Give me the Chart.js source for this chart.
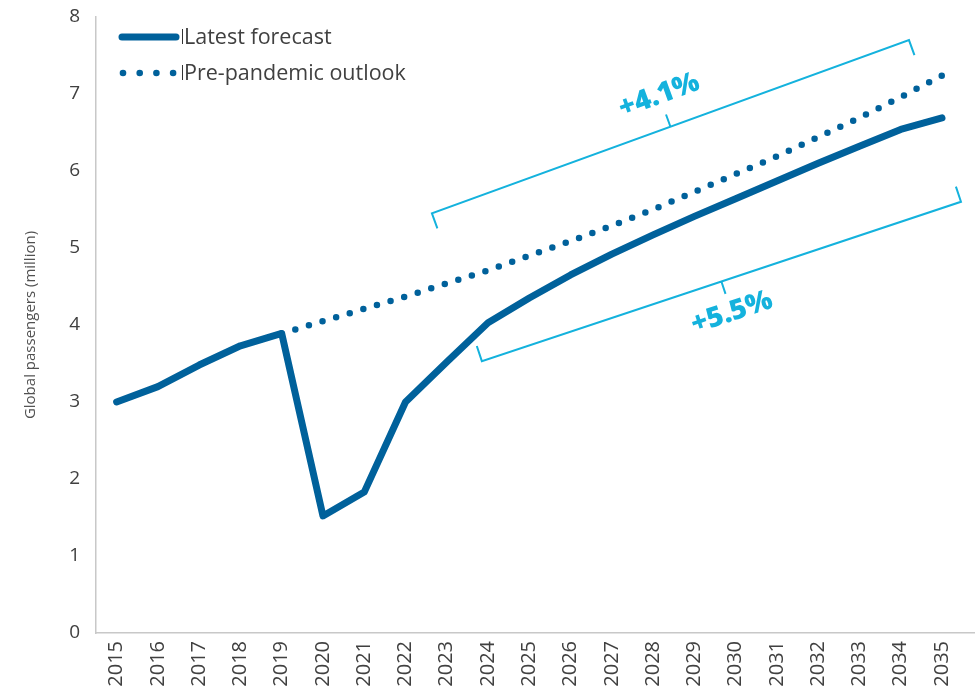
<!DOCTYPE html>
<html>
<head>
<meta charset="utf-8">
<script src="https://cdn.jsdelivr.net/npm/chart.js@4.4.0/dist/chart.umd.min.js"></script>
<style>
    body { margin: 0; background: #fff; }
    #wrap { width: 975px; height: 694px; }
</style>
</head>
<body>
<div id="wrap"><canvas id="myChart"></canvas></div>
<script>
const years = [2015, 2016, 2017, 2018, 2019, 2020, 2021, 2022, 2023, 2024, 2025,
    2026, 2027, 2028, 2029, 2030, 2031, 2032, 2033, 2034, 2035];
const latestForecast = [3.0, 3.2, 3.48, 3.73, 3.89, 1.52, 1.83, 3.0, 3.52, 4.03, 4.35,
    4.65, 4.92, 5.17, 5.41, 5.64, 5.87, 6.1, 6.32, 6.54, 6.69];
const prePandemic = [null, null, null, null, 3.89, 4.05, 4.21, 4.37, 4.54, 4.71, 4.9,
    5.09, 5.29, 5.5, 5.73, 5.96, 6.19, 6.44, 6.69, 6.96, 7.24];
const seriesNames = ["Latest forecast", "Pre-pandemic outlook"];

// growth brackets, ends given in (year, value)
const growthLabels = ["+4.1%", "+5.5%"];
const bracketFrom = [[2022.64, 5.45], [2023.85, 3.53]];
const bracketTo = [[2034.2, 7.7], [2035.46, 5.6]];
const bracketSide = [1, -1];

const navy = "#00619b";
const cyan = "#14b2dd";

const growthBrackets = {
    id: "growthBrackets",
    afterDatasetsDraw(chart) {
        const { ctx, scales: { x, y } } = chart;
        ctx.save();
        ctx.strokeStyle = cyan;
        ctx.fillStyle = cyan;
        ctx.lineWidth = 2;
        growthLabels.forEach((label, i) => {
            const x1 = x.getPixelForValue(bracketFrom[i][0]);
            const y1 = y.getPixelForValue(bracketFrom[i][1]);
            const x2 = x.getPixelForValue(bracketTo[i][0]);
            const y2 = y.getPixelForValue(bracketTo[i][1]);
            const ang = Math.atan2(y2 - y1, x2 - x1);
            const nx = -Math.sin(ang);
            const ny = Math.cos(ang);
            const d = bracketSide[i];
            const mx = (x1 + x2) / 2;
            const my = (y1 + y2) / 2;

            ctx.beginPath();
            ctx.moveTo(x1 + d * nx * 16, y1 + d * ny * 16);
            ctx.lineTo(x1, y1);
            ctx.lineTo(x2, y2);
            ctx.lineTo(x2 + d * nx * 16, y2 + d * ny * 16);
            ctx.moveTo(mx, my);
            ctx.lineTo(mx - d * nx * 13, my - d * ny * 13);
            ctx.stroke();

            ctx.save();
            ctx.translate(mx - d * nx * 33, my - d * ny * 33);
            ctx.rotate(ang);
            ctx.font = "800 28px 'Open Sans'";
            ctx.textAlign = "center";
            ctx.textBaseline = "middle";
            ctx.fillText(label, 0, 0);
            ctx.restore();
        });
        ctx.restore();
    },
};

const legendBox = {
    id: "legendBox",
    afterDraw(chart) {
        const { ctx, chartArea } = chart;
        const lx = chartArea.left + 26;
        const rows = [chartArea.top + 20, chartArea.top + 56];
        ctx.save();
        ctx.strokeStyle = navy;
        ctx.fillStyle = navy;
        ctx.lineCap = "round";

        ctx.lineWidth = 7;
        ctx.beginPath();
        ctx.moveTo(lx, rows[0]);
        ctx.lineTo(lx + 54, rows[0]);
        ctx.stroke();

        for (let k = 0; k < 4; k++) {
            ctx.beginPath();
            ctx.arc(lx + 1 + k * 16.7, rows[1], 3.3, 0, Math.PI * 2);
            ctx.fill();
        }

        ctx.lineCap = "butt";
        ctx.strokeStyle = "#333";
        ctx.lineWidth = 1;
        ctx.font = "21.5px 'Open Sans'";
        ctx.fillStyle = "#404040";
        ctx.textBaseline = "middle";
        rows.forEach((ry, i) => {
            ctx.beginPath();
            ctx.moveTo(lx + 60.5, ry - 8);
            ctx.lineTo(lx + 60.5, ry + 7);
            ctx.stroke();
            ctx.fillText(seriesNames[i], lx + 62, ry + 1);
        });
        ctx.restore();
    },
};

const ctx = document.querySelector("#myChart");

new Chart(ctx, {
    type: "line",
    data: {
        datasets: [
            {
                label: seriesNames[0],
                data: years.map((yr, i) => ({ x: yr, y: latestForecast[i] })),
                borderColor: navy,
                borderWidth: 7,
                borderCapStyle: "round",
                borderJoinStyle: "round",
                pointRadius: 0,
                tension: 0,
            },
            {
                label: seriesNames[1],
                data: years.map((yr, i) => ({ x: yr, y: prePandemic[i] })),
                borderColor: navy,
                borderWidth: 6.5,
                borderDash: [0, 14.2],
                borderCapStyle: "round",
                pointRadius: 0,
                tension: 0,
                spanGaps: false,
            },
        ],
    },
    options: {
        responsive: true,
        maintainAspectRatio: false,
        animation: false,
        layout: { padding: 0 },
        plugins: {
            legend: { display: false },
            tooltip: { enabled: false },
        },
        scales: {
            x: {
                type: "linear",
                min: 2014.5,
                max: 2035.8,
                afterBuildTicks: (axis) => {
                    axis.ticks = years.map((v) => ({ value: v }));
                },
                afterFit: (axis) => {
                    axis.height = 61;
                    axis.paddingRight = 0;
                },
                grid: { display: false, drawTicks: false },
                border: { display: true, color: "#c8c8c8", width: 1.5 },
                ticks: {
                    minRotation: 90,
                    maxRotation: 90,
                    autoSkip: false,
                    padding: 8,
                    color: "#404040",
                    font: { family: "'Open Sans'", size: 20 },
                    callback: (v) => String(v),
                },
            },
            y: {
                min: 0,
                max: 8,
                afterFit: (axis) => {
                    axis.width = 96;
                    axis.paddingTop = 17;
                },
                grid: { display: false, drawTicks: false },
                border: { display: true, color: "#c8c8c8", width: 1.5 },
                ticks: {
                    stepSize: 1,
                    padding: 16,
                    color: "#404040",
                    font: { family: "'Open Sans'", size: 19 },
                },
                title: {
                    display: true,
                    text: "Global passengers (million)",
                    color: "#505050",
                    font: { family: "'Open Sans'", size: 15 },
                    padding: { top: 22, bottom: 0 },
                },
            },
        },
    },
    plugins: [growthBrackets, legendBox],
});
</script>
</body>
</html>
